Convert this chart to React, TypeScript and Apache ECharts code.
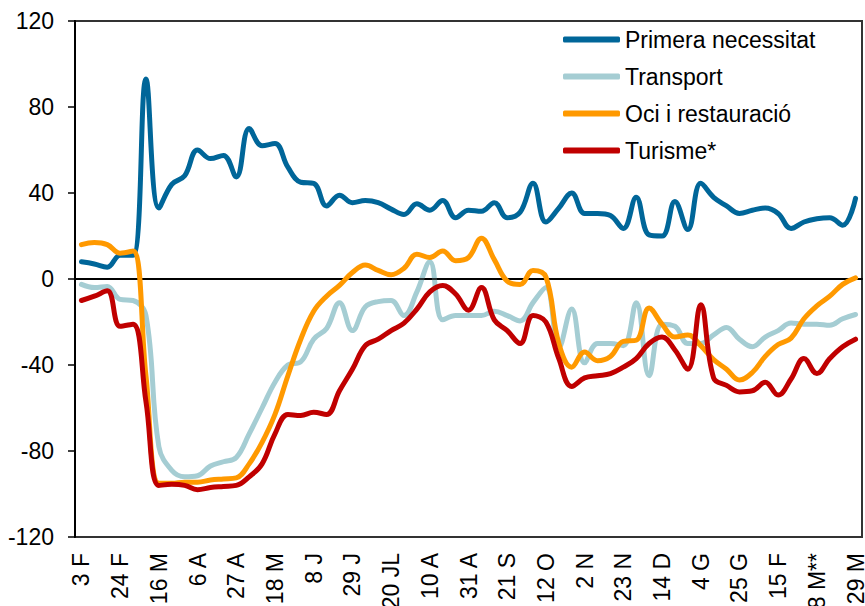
import React, { useEffect, useRef } from "react";
import * as echarts from "echarts";

const categories = [
  "3 F", "10 F", "17 F", "24 F", "2 M", "9 M", "16 M", "23 M", "30 M", "6 A",
  "13 A", "20 A", "27 A", "4 M", "11 M", "18 M", "25 M", "1 J", "8 J", "15 J",
  "22 J", "29 J", "6 JL", "13 JL", "20 JL", "27 JL", "3 A", "10 A", "17 A", "24 A",
  "31 A", "7 S", "14 S", "21 S", "28 S", "5 O", "12 O", "19 O", "26 O", "2 N",
  "9 N", "16 N", "23 N", "30 N", "7 D", "14 D", "21 D", "28 D", "4 G", "11 G",
  "18 G", "25 G", "1 F", "8 F", "15 F", "22 F", "1 M", "8 M**", "15 M", "22 M",
  "29 M",
];

const primeraNecessitat = [
  8, 7, 5.5, 11, 11, 93, 33, 44, 48, 60,
  56, 57.5, 47.5, 70, 62, 63, 52, 45, 44.5, 34,
  39, 35.5, 36.5, 35.5, 32.5, 30, 35, 32, 36.5, 28.5,
  32, 31.5, 35.5, 28.5, 31, 44.5, 26.5, 33, 40, 30.5,
  30.5, 29.5, 23.5, 38, 20.5, 20, 36, 23, 44.5, 38,
  34, 30.5, 32, 33, 30.5, 23.5, 26.5, 28, 28.5, 25,
  37.5,
];

const transport = [
  -2.5, -4, -3.5, -9.5, -10, -17, -78, -89, -92, -91.5,
  -87, -85, -83, -72, -60, -48, -40, -38.5, -28, -23,
  -11, -24, -13, -10.5, -10, -17, -6, 8, -19, -17,
  -17, -17, -15, -17, -19.5, -11, -4, -32, -14, -39,
  -30, -30, -31, -11, -45, -21, -22, -30, -30, -26,
  -22.5, -28, -31.5, -27, -24, -20.5, -21, -21, -21.5, -18.5,
  -16.5,
];

const ociRestauracio = [
  16, 17, 16, 12, 13, -45, -95, -95, -94.5, -94.5,
  -93.5, -93, -92.5, -86, -76, -63, -45, -28, -15, -8,
  -3, 3, 6.5, 4, 2, 5, 11.5, 10, 13, 8.5,
  10, 19, 9, -1, -2.5, 4, 1, -30, -41, -34,
  -38, -36, -29, -28.5, -13.5, -21, -27, -26, -31, -37.5,
  -42, -47, -43.5, -36, -30.5, -27.5, -18.5, -12.5, -8, -2.5,
  0.5,
];

const turisme = [
  -10, -8, -5.5, -22, -21, -57, -96, -95.5, -96, -98,
  -97, -96.5, -96, -92, -86, -72, -63, -63.5, -62, -63,
  -52, -42, -31, -28, -24, -20.5, -14, -6, -3, -7,
  -14.5, -4, -19, -24, -30, -17, -20, -37, -50, -46,
  -45, -44, -41, -37, -30, -27, -33, -42, -12, -46,
  -49.5, -52.5, -52, -48, -54, -46.5, -37, -44, -37, -31.5,
  -28,
];

const seriesNames = ["Primera necessitat", "Transport", "Oci i restauració", "Turisme*"];
const seriesColors = ["#006699", "#A5CDD3", "#FF9900", "#C00000"];

const FONT = "'Liberation Sans', Arial, sans-serif";

export default function App() {
  const ref = useRef<HTMLDivElement>(null);

  useEffect(() => {
    if (!ref.current) return;
    const chart = echarts.init(ref.current, null, { renderer: "svg" });
    const datasets = [primeraNecessitat, transport, ociRestauracio, turisme];
    const series: any[] = datasets.map((d, i) => ({
      name: seriesNames[i],
      type: "line",
      data: d,
      smooth: 0.4,
      symbol: "none",
      lineStyle: { width: 5, color: seriesColors[i], cap: "round", join: "round" },
      itemStyle: { color: seriesColors[i] },
      emphasis: { disabled: true },
      z: 3 + i,
    }));
    series[0].markLine = {
      silent: true,
      symbol: ["none", "none"],
      label: { show: false },
      lineStyle: { color: "#000", width: 1.5, type: "solid" },
      emphasis: { disabled: true },
      data: [{ yAxis: 0 }],
    };

    chart.setOption({
      animation: false,
      backgroundColor: "#fff",
      grid: {
        left: 75,
        right: 3,
        top: 21,
        bottom: 69,
        show: true,
        borderColor: "#333",
        borderWidth: 2,
        containLabel: false,
        outerBoundsMode: "none",
      },
      legend: {
        orient: "vertical",
        left: 563,
        top: 28,
        padding: 0,
        itemGap: 14,
        itemWidth: 57,
        itemHeight: 6,
        icon: "roundRect",
        data: seriesNames,
        textStyle: { fontSize: 23, color: "#000", fontFamily: FONT, lineHeight: 23 },
      },
      xAxis: {
        type: "category",
        data: categories,
        boundaryGap: true,
        axisLine: { show: true, lineStyle: { color: "#000", width: 2 } },
        axisTick: { show: false },
        axisLabel: {
          interval: 2,
          rotate: 90,
          margin: 16,
          fontSize: 23,
          color: "#000",
          fontFamily: FONT,
        },
        splitLine: { show: false },
      },
      yAxis: {
        type: "value",
        min: -120,
        max: 120,
        interval: 40,
        axisLine: { show: true, onZero: false, lineStyle: { color: "#000", width: 2 } },
        axisTick: { show: true, inside: false, length: 7, lineStyle: { color: "#000", width: 1.5 } },
        axisLabel: { margin: 21, fontSize: 23, color: "#000", fontFamily: FONT },
        splitLine: { show: false },
      },
      series,
    });
    return () => chart.dispose();
  }, []);

  return <div ref={ref} style={{ width: 865, height: 606, position: "absolute", left: 0, top: 0 }} />;
}
